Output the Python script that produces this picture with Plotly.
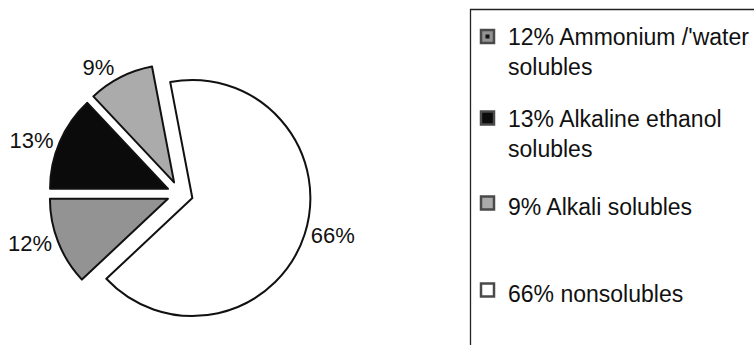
import plotly.graph_objects as go

# Fractions of the sample (percent), in drawing order (clockwise)
fractions = ["Ammonium /'water solubles", "Alkaline ethanol solubles",
             "Alkali solubles", "nonsolubles"]
percent = [12, 13, 9, 66]
legend_lines = [["12% Ammonium /'water", "solubles"],
                ["13% Alkaline ethanol", "solubles"],
                ["9% Alkali solubles"],
                ["66% nonsolubles"]]

slice_colors = ["#939393", "#0b0b0b", "#ababab", "#ffffff"]
FONT = "Liberation Sans, Arial, Helvetica, sans-serif"
W, H = 754, 345

fig = go.Figure()
fig.add_trace(go.Pie(
    labels=fractions,
    values=percent,
    sort=False,
    direction="clockwise",
    rotation=226.8,
    pull=[0.11] * len(percent),
    marker=dict(colors=slice_colors, line=dict(color="#111111", width=2)),
    texttemplate="%{value}%",
    textposition="outside",
    outsidetextfont=dict(family=FONT, size=22, color="#111111"),
    domain=dict(x=[40 / W, 320 / W], y=[20 / H, 282 / H]),
    showlegend=False,
    hoverinfo="label+value",
))


def px(x):
    return x / W


def py(y):
    return 1 - y / H


# Hand-built key on the right: framed box, swatches and wrapped labels
row_y = [40.5, 122, 207, 294]
line_step = 23.4
shapes = [dict(type="path", xref="paper", yref="paper",
               path=f"M {px(470.5)},0 L {px(470.5)},{py(9.5)} L 1,{py(9.5)}",
               line=dict(color="#222222", width=1.3))]
annotations = []
for i, lines in enumerate(legend_lines):
    cy = row_y[i] - 4
    shapes.append(dict(type="rect", xref="paper", yref="paper",
                       x0=px(481), x1=px(494), y0=py(cy + 6.5), y1=py(cy - 6.5),
                       fillcolor=slice_colors[i],
                       line=dict(color="#4a4a4a", width=2.5)))
    if i == 0:
        shapes.append(dict(type="rect", xref="paper", yref="paper",
                           x0=px(485.5), x1=px(489.5), y0=py(cy + 2), y1=py(cy - 2),
                           fillcolor="#111111", line=dict(width=0)))
    mid = row_y[i] + (len(lines) - 1) * line_step / 2
    annotations.append(dict(
        xref="paper", yref="paper", x=px(507), y=py(mid),
        xanchor="left", yanchor="middle", align="left", showarrow=False,
        text="<br>".join(lines), borderpad=0,
        font=dict(family=FONT, size=23, color="#111111")))

fig.update_layout(
    width=W, height=H,
    margin=dict(l=0, r=0, t=0, b=0, autoexpand=False),
    paper_bgcolor="white",
    plot_bgcolor="white",
    shapes=shapes,
    annotations=annotations,
)

fig.write_html("out.html")
